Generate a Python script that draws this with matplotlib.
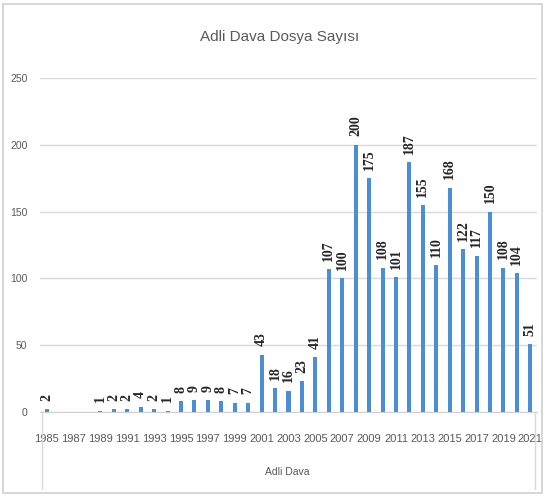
import numpy as np
import matplotlib
matplotlib.use('Agg')
import matplotlib.pyplot as plt
from matplotlib.patches import Rectangle
from matplotlib.lines import Line2D

years = list(range(1985, 2022))
counts = [2, None, None, None, 1, 2, 2, 4, 2, 1, 8, 9, 9, 8, 7, 7, 43, 18, 16, 23, 41,
          107, 100, 200, 175, 108, 101, 187, 155, 110, 168, 122, 117, 150, 108, 104, 51]
tick_years = years[::2]
yticks = [0, 50, 100, 150, 200, 250]
title = 'Adli Dava Dosya Sayısı'
group_label = 'Adli Dava'

sans = ['Liberation Sans', 'DejaVu Sans']
gray = '#595959'
bar_color = '#4a8fd6'

fig = plt.figure(figsize=(5.46, 5.0), dpi=100)
ax = fig.add_axes([40 / 546, 1 - 412 / 500, 497 / 546, 334 / 500])

x = np.arange(len(years))
vals = np.array([np.nan if v is None else v for v in counts], dtype=float)
ax.bar(x, np.nan_to_num(vals), width=0.3, color=bar_color, zorder=3)

# value labels, skip the years with no data
for xi, v in zip(x, counts):
    if v is None:
        continue
    ax.annotate(str(v), (xi, v), xytext=(0, 6), textcoords='offset points',
                rotation=90, ha='center', va='bottom', fontsize=10,
                family='Liberation Serif', fontweight='bold', color='#262626')

ax.set_xlim(-0.5, len(years) - 0.5)
ax.set_ylim(0, 250)
ax.set_yticks(yticks)
ax.set_yticklabels([str(t) for t in yticks], family=sans, fontsize=7.5, color=gray)
ax.set_xticks([years.index(y) for y in tick_years])
ax.set_xticklabels([str(y) for y in tick_years], family=sans, fontsize=8, color=gray)
ax.tick_params(axis='both', length=0)
ax.tick_params(axis='x', pad=16)
ax.tick_params(axis='y', pad=9)
ax.grid(axis='y', color='#d9d9d9', lw=1, zorder=0)
for s in ['top', 'right', 'left']:
    ax.spines[s].set_visible(False)
ax.spines['bottom'].set_color('#d0d0d0')

# group axis separators below the year labels
for xf in [42 / 546, 535 / 546]:
    fig.add_artist(Line2D([xf, xf], [1 - 412 / 500, 1 - 489 / 500], color='#d9d9d9', lw=1))
fig.text(287 / 546, 1 - 472 / 500, group_label, family=sans, fontsize=7.5,
         color=gray, ha='center', va='center')

fig.text(280 / 546, 1 - 37 / 500, title, family=sans, fontsize=11,
         color=gray, ha='center', va='center')

fig.add_artist(Rectangle((3 / 546, 1 - 493 / 500), 539 / 546, 489 / 500,
                         fill=False, edgecolor='#d0d0d0', lw=1.2))

fig.savefig('out.png', dpi=100)
